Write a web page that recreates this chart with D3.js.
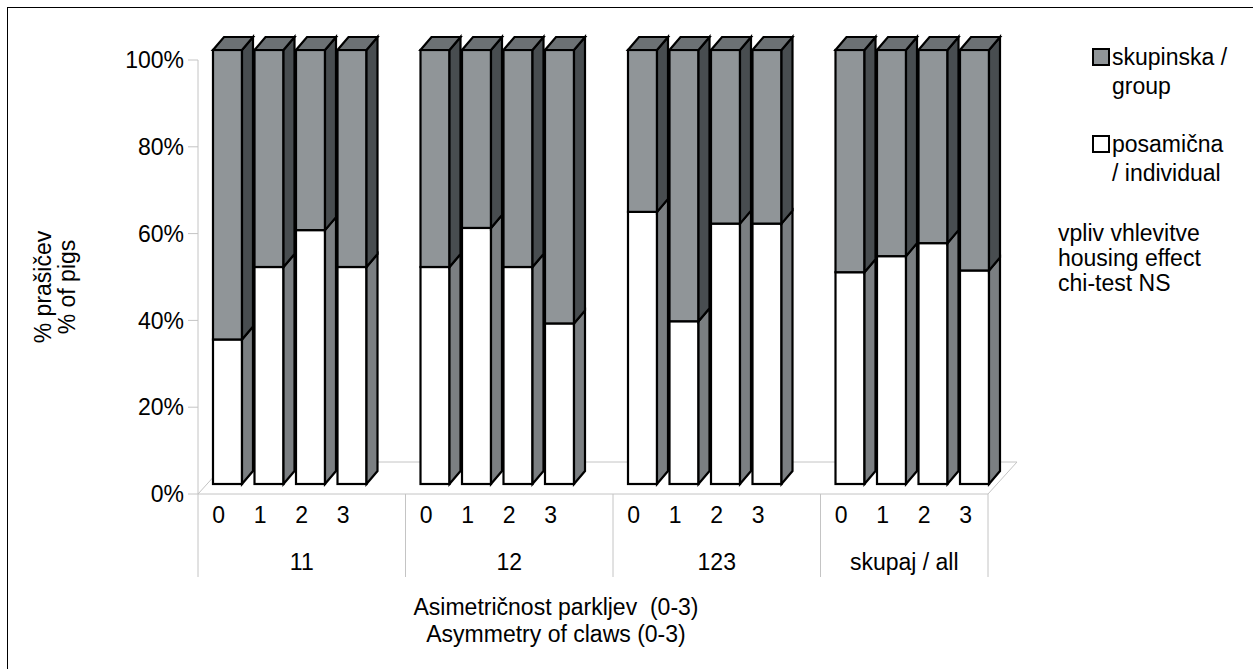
<!DOCTYPE html>
<html>
<head>
<meta charset="utf-8">
<script src="https://d3js.org/d3.v7.min.js"></script>
<style>
  body { margin: 0; background: #fff; }
  text { font-family: "Liberation Sans", Arial, sans-serif; fill: #000; }
</style>
</head>
<body>
<div id="chart"></div>
<script>
// data
const groups = ["11", "12", "123", "skupaj / all"];
const levels = ["0", "1", "2", "3"];
// share of "posamična / individual" (white), rest is "skupinska / group"
const individual = [
  [0.333, 0.500, 0.585, 0.500],
  [0.500, 0.590, 0.500, 0.370],
  [0.627, 0.375, 0.600, 0.600],
  [0.488, 0.525, 0.555, 0.492]
];
const yTicks = [0, 0.2, 0.4, 0.6, 0.8, 1];
const legendLabels = [["skupinska /", "group"], ["posamična", "/ individual"]];
const note = ["vpliv vhlevitve", "housing effect", "chi-test NS"];

const width = 1253, height = 669;
const fs = 23;
const x0 = 198, floorEnd = 988;
const floorDepth = [29, -32];   // depth of the floor
const barFront = [9, -10];      // front of bars relative to floor front
const barDepth = [11, -13];     // depth of each bar

const svg = d3.select("#chart").append("svg")
  .attr("width", width).attr("height", height);

// outer frame (runs off the right/bottom edge)
svg.append("rect")
  .attr("x", 7.5).attr("y", 7.5)
  .attr("width", width + 20).attr("height", height + 20)
  .attr("fill", "none").attr("stroke", "#000").attr("stroke-width", 1);

const y = d3.scaleLinear().domain([0, 1]).range([494, 60]);

const gx = d3.scaleBand().domain(groups).range([x0, x0 + 4 * 207.5]);
const cx = d3.scaleBand().domain(levels).range([0, 166]);
const barW = 29, barPad = 6;

// floor
const grid = "#c4c4c4";
svg.append("path")
  .attr("d", `M${x0},${y(0)}H${floorEnd}l${floorDepth[0]},${floorDepth[1]}H${x0 + floorDepth[0]}Z`)
  .attr("fill", "none").attr("stroke", grid);

// y axis
svg.append("line").attr("x1", x0).attr("x2", x0).attr("y1", y(1)).attr("y2", y(0))
  .attr("stroke", grid);
const yAxis = svg.append("g");
yTicks.forEach(t => {
  yAxis.append("line").attr("x1", x0 - 10).attr("x2", x0).attr("y1", y(t)).attr("y2", y(t))
    .attr("stroke", grid);
  yAxis.append("text").attr("x", x0 - 14).attr("y", y(t)).attr("dy", "0.36em")
    .attr("text-anchor", "end").attr("font-size", fs)
    .text(d3.format(".0%")(t));
});

// y title
const yt = svg.append("text").attr("transform", "translate(51,287) rotate(-90)")
  .attr("text-anchor", "middle").attr("font-size", fs);
yt.append("tspan").attr("x", 0).attr("dy", 0).text("% prašičev");
yt.append("tspan").attr("x", 0).attr("dy", 24).text("% of pigs");

// category separators and labels
const sepX = groups.map(g => gx(g)).concat([floorEnd]);
sepX.forEach(sx => {
  svg.append("line").attr("x1", sx).attr("x2", sx).attr("y1", y(0)).attr("y2", 577)
    .attr("stroke", grid);
});
groups.forEach(g => {
  levels.forEach(l => {
    svg.append("text").attr("x", gx(g) + cx(l) + cx.bandwidth() / 2).attr("y", 515)
      .attr("dy", "0.36em").attr("text-anchor", "middle").attr("font-size", fs).text(l);
  });
  const left = gx(g), right = Math.min(gx(g) + gx.bandwidth(), floorEnd);
  svg.append("text").attr("x", (left + right) / 2).attr("y", 562)
    .attr("dy", "0.36em").attr("text-anchor", "middle").attr("font-size", fs).text(g);
});

// x title
const xt = svg.append("text").attr("text-anchor", "middle").attr("font-size", fs)
  .style("white-space", "pre");
xt.append("tspan").attr("x", 556).attr("y", 607).attr("dy", "0.36em").text("Asimetričnost parkljev  (0-3)");
xt.append("tspan").attr("x", 556).attr("y", 634).attr("dy", "0.36em").text("Asymmetry of claws (0-3)");

// bars
const col = {
  white: "#ffffff", whiteSide: "#7b7f82",
  gray: "#909598", graySide: "#484d50", top: "#6c7174"
};
const bars = svg.append("g")
  .attr("stroke", "#000").attr("stroke-width", 2.2).attr("stroke-linejoin", "miter");

groups.forEach((g, gi) => {
  levels.forEach((l, li) => {
    const v = individual[gi][li];
    const xl = gx(g) + cx(l) + barPad + barFront[0];
    const xr = xl + barW;
    const yb = y(0) + barFront[1], ym = y(v) + barFront[1], ytp = y(1) + barFront[1];
    const [dx, dy] = barDepth;
    // white front + side
    bars.append("rect").attr("x", xl).attr("y", ym).attr("width", barW).attr("height", yb - ym)
      .attr("fill", col.white);
    bars.append("path").attr("d", `M${xr},${yb}V${ym}l${dx},${dy}V${yb + dy}Z`)
      .attr("fill", col.whiteSide);
    // gray front + side
    bars.append("rect").attr("x", xl).attr("y", ytp).attr("width", barW).attr("height", ym - ytp)
      .attr("fill", col.gray);
    bars.append("path").attr("d", `M${xr},${ym}V${ytp}l${dx},${dy}V${ym + dy}Z`)
      .attr("fill", col.graySide);
    // top
    bars.append("path").attr("d", `M${xl},${ytp}H${xr}l${dx},${dy}H${xl + dx}Z`)
      .attr("fill", col.top);
  });
});

// legend
const lg = svg.append("g");
const legendFill = [col.gray, col.white];
const legendY = [57, 144];
legendLabels.forEach((lab, i) => {
  lg.append("rect").attr("x", 1093).attr("y", legendY[i] - 8).attr("width", 16).attr("height", 16)
    .attr("fill", legendFill[i]).attr("stroke", "#000").attr("stroke-width", 2);
  lg.append("text").attr("x", 1112).attr("y", legendY[i]).attr("dy", "0.36em")
    .attr("font-size", fs).text(lab[0]);
  lg.append("text").attr("x", 1112).attr("y", legendY[i] + 29).attr("dy", "0.36em")
    .attr("font-size", fs).text(lab[1]);
});
note.forEach((t, i) => {
  lg.append("text").attr("x", 1058).attr("y", 233 + i * 25).attr("dy", "0.36em")
    .attr("font-size", fs).text(t);
});
</script>
</body>
</html>
